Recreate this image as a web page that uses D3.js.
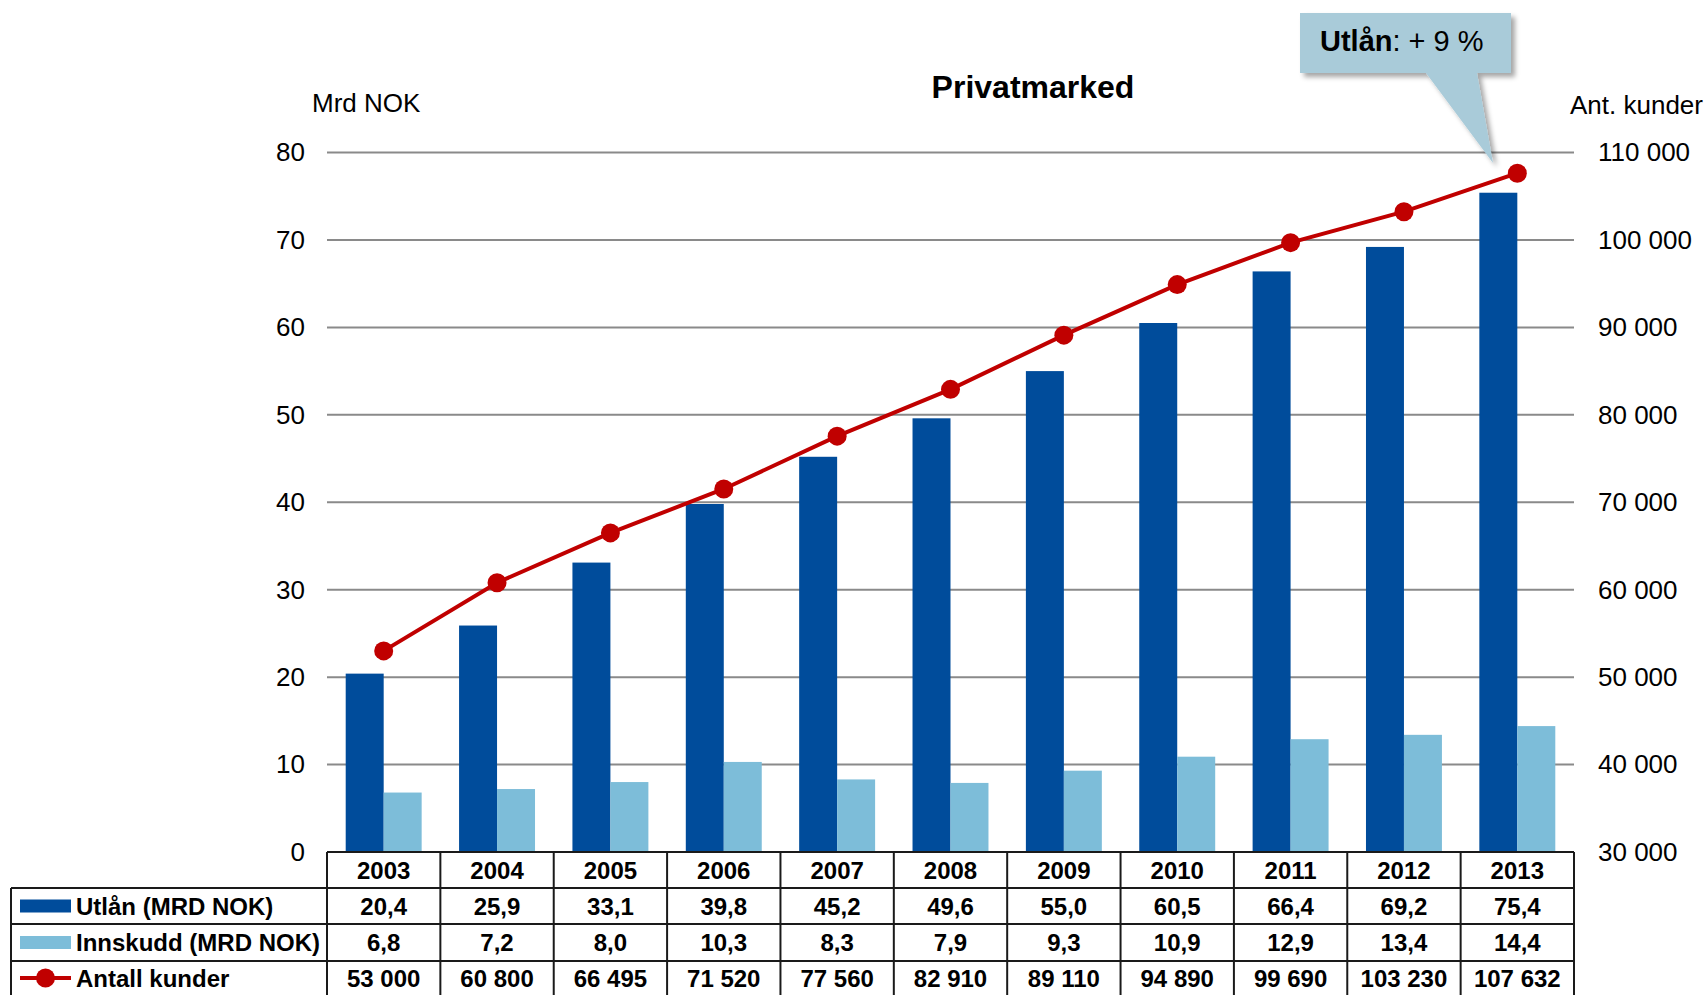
<!DOCTYPE html>
<html>
<head>
<meta charset="utf-8">
<script src="https://cdn.jsdelivr.net/npm/d3@7"></script>
<style>
  body { margin: 0; background: #fff; }
  svg { display: block; font-family: Arial, "Liberation Sans", sans-serif; }
</style>
</head>
<body>
<svg id="chart" width="1708" height="995"></svg>
<script>
// Data
const years = ['2003', '2004', '2005', '2006', '2007', '2008', '2009', '2010', '2011', '2012', '2013'];
const utlan = [20.4, 25.9, 33.1, 39.8, 45.2, 49.6, 55.0, 60.5, 66.4, 69.2, 75.4];
const innskudd = [6.8, 7.2, 8.0, 10.3, 8.3, 7.9, 9.3, 10.9, 12.9, 13.4, 14.4];
const kunder = [53000, 60800, 66495, 71520, 77560, 82910, 89110, 94890, 99690, 103230, 107632];
const leftTicks = [0, 10, 20, 30, 40, 50, 60, 70, 80];
const rightTicks = [30000, 40000, 50000, 60000, 70000, 80000, 90000, 100000, 110000];
const seriesNames = ['Utlån (MRD NOK)', 'Innskudd (MRD NOK)', 'Antall kunder'];

const colors = { utlan: '#004c9b', innskudd: '#7dbdd9', kunder: '#c00000' };

const svg = d3.select('#chart');

// Layout
const plot = { left: 327, right: 1574, top: 152.5, bottom: 852 };
const tableLeft = 11;
const rowY = [852, 888, 924, 961, 995];

// Scales
const x0 = d3.scaleBand()
    .domain(years)
    .range([plot.left, plot.right])
    .paddingInner(0.33)
    .paddingOuter(0.165);

const x1 = d3.scaleBand()
    .domain(['utlan', 'innskudd'])
    .range([0, x0.bandwidth()]);

const yLeft = d3.scaleLinear().domain([0, 80]).range([plot.bottom, plot.top]);
const yRight = d3.scaleLinear().domain([30000, 110000]).range([plot.bottom, plot.top]);

const step = x0.step();
const colStart = i => plot.left + i * step;
const colCenter = y => x0(y) + x0.bandwidth() / 2;

// Gridlines
svg.append('g')
    .selectAll('line')
    .data(leftTicks.filter(d => d > 0))
    .enter()
    .append('line')
    .attr('x1', plot.left)
    .attr('x2', plot.right)
    .attr('y1', d => yLeft(d))
    .attr('y2', d => yLeft(d))
    .attr('stroke', '#8a8a8a')
    .attr('stroke-width', 2);

// Left axis labels
const leftAxis = d3.axisLeft(yLeft).tickValues(leftTicks).tickSize(0).tickPadding(22);
svg.append('g')
    .attr('transform', `translate(${plot.left},0)`)
    .call(leftAxis)
    .call(g => g.select('.domain').remove())
    .call(g => g.selectAll('text').attr('font-size', 26).attr('fill', '#000')
        .attr('font-family', 'Arial, "Liberation Sans", sans-serif'));

// Right axis labels
const fmtThousands = d => d3.format(',')(d).replace(/,/g, ' ');
const rightAxis = d3.axisRight(yRight).tickValues(rightTicks).tickSize(0).tickPadding(24)
    .tickFormat(fmtThousands);
svg.append('g')
    .attr('transform', `translate(${plot.right},0)`)
    .call(rightAxis)
    .call(g => g.select('.domain').remove())
    .call(g => g.selectAll('text').attr('font-size', 26).attr('fill', '#000')
        .attr('font-family', 'Arial, "Liberation Sans", sans-serif'));

// Axis titles and chart title
svg.append('text').attr('x', 312).attr('y', 112).attr('font-size', 26).text('Mrd NOK');
svg.append('text').attr('x', 1703).attr('y', 114).attr('font-size', 26)
    .attr('text-anchor', 'end').text('Ant. kunder');
svg.append('text').attr('x', 1033).attr('y', 98).attr('font-size', 32)
    .attr('font-weight', 'bold').attr('text-anchor', 'middle').text('Privatmarked');

// Bars
const groups = svg.append('g')
    .selectAll('g')
    .data(years)
    .enter()
    .append('g')
    .attr('transform', d => `translate(${x0(d)},0)`);

groups.append('rect')
    .attr('x', x1('utlan'))
    .attr('width', x1.bandwidth())
    .attr('y', (d, i) => yLeft(utlan[i]))
    .attr('height', (d, i) => yLeft(0) - yLeft(utlan[i]))
    .attr('fill', colors.utlan);

groups.append('rect')
    .attr('x', x1('innskudd'))
    .attr('width', x1.bandwidth())
    .attr('y', (d, i) => yLeft(innskudd[i]))
    .attr('height', (d, i) => yLeft(0) - yLeft(innskudd[i]))
    .attr('fill', colors.innskudd);

// Line
const line = d3.line()
    .x((d, i) => colCenter(years[i]))
    .y(d => yRight(d));

svg.append('path')
    .datum(kunder)
    .attr('d', line)
    .attr('fill', 'none')
    .attr('stroke', colors.kunder)
    .attr('stroke-width', 4);

svg.append('g')
    .selectAll('circle')
    .data(kunder)
    .enter()
    .append('circle')
    .attr('cx', (d, i) => colCenter(years[i]))
    .attr('cy', d => yRight(d))
    .attr('r', 9.5)
    .attr('fill', colors.kunder);

// Data table
const table = svg.append('g');
const lineColor = '#1a1a1a';

// horizontal lines (bottom edge is cut off in the original)
table.append('line').attr('x1', plot.left).attr('x2', plot.right)
    .attr('y1', rowY[0]).attr('y2', rowY[0]).attr('stroke', lineColor).attr('stroke-width', 2);
[rowY[1], rowY[2], rowY[3]].forEach(y => {
    table.append('line').attr('x1', tableLeft).attr('x2', plot.right)
        .attr('y1', y).attr('y2', y).attr('stroke', lineColor).attr('stroke-width', 2);
});

// vertical lines
table.append('line').attr('x1', tableLeft).attr('x2', tableLeft)
    .attr('y1', rowY[1]).attr('y2', rowY[4]).attr('stroke', lineColor).attr('stroke-width', 2);
d3.range(years.length + 1).forEach(i => {
    table.append('line').attr('x1', colStart(i)).attr('x2', colStart(i))
        .attr('y1', rowY[0]).attr('y2', rowY[4]).attr('stroke', lineColor).attr('stroke-width', 2);
});

const fmtDec = d => d3.format('.1f')(d).replace('.', ',');
const rows = [
    years,
    utlan.map(fmtDec),
    innskudd.map(fmtDec),
    kunder.map(fmtThousands)
];

rows.forEach((row, r) => {
    const cy = (rowY[r] + rowY[r + 1]) / 2;
    table.append('g')
        .selectAll('text')
        .data(row)
        .enter()
        .append('text')
        .attr('x', (d, i) => colCenter(years[i]))
        .attr('y', cy)
        .attr('dy', '0.36em')
        .attr('text-anchor', 'middle')
        .attr('font-size', 24)
        .attr('font-weight', 'bold')
        .text(d => d);
});

// Legend in table
seriesNames.forEach((name, i) => {
    const cy = (rowY[i + 1] + rowY[i + 2]) / 2;
    if (i < 2) {
        table.append('rect')
            .attr('x', 20).attr('y', cy - 6.5)
            .attr('width', 51).attr('height', 13)
            .attr('fill', i === 0 ? colors.utlan : colors.innskudd);
    } else {
        table.append('line')
            .attr('x1', 20).attr('x2', 71).attr('y1', cy).attr('y2', cy)
            .attr('stroke', colors.kunder).attr('stroke-width', 4);
        table.append('circle')
            .attr('cx', 45.5).attr('cy', cy).attr('r', 9.5).attr('fill', colors.kunder);
    }
    table.append('text')
        .attr('x', 76).attr('y', cy).attr('dy', '0.36em')
        .attr('font-size', 24).attr('font-weight', 'bold')
        .text(name);
});

// Callout
const defs = svg.append('defs');
const filter = defs.append('filter').attr('id', 'shadow')
    .attr('x', '-20%').attr('y', '-20%').attr('width', '150%').attr('height', '150%');
filter.append('feDropShadow')
    .attr('dx', 4).attr('dy', 4).attr('stdDeviation', 2.5)
    .attr('flood-color', '#000').attr('flood-opacity', 0.35);

const box = { x0: 1300, x1: 1511, y0: 13, y1: 73 };
const tip = [1493, 163];
const callout = d3.path();
callout.moveTo(box.x0, box.y0);
callout.lineTo(box.x1, box.y0);
callout.lineTo(box.x1, box.y1);
callout.lineTo(1477, box.y1);
callout.lineTo(tip[0], tip[1]);
callout.lineTo(1426, box.y1);
callout.lineTo(box.x0, box.y1);
callout.closePath();

svg.append('path')
    .attr('d', callout.toString())
    .attr('fill', '#a9cbd9')
    .attr('filter', 'url(#shadow)');

const ct = svg.append('text').attr('x', 1320).attr('y', 51).attr('font-size', 29);
ct.append('tspan').attr('font-weight', 'bold').text('Utlån');
ct.append('tspan').text(': + 9 %');
</script>
</body>
</html>
